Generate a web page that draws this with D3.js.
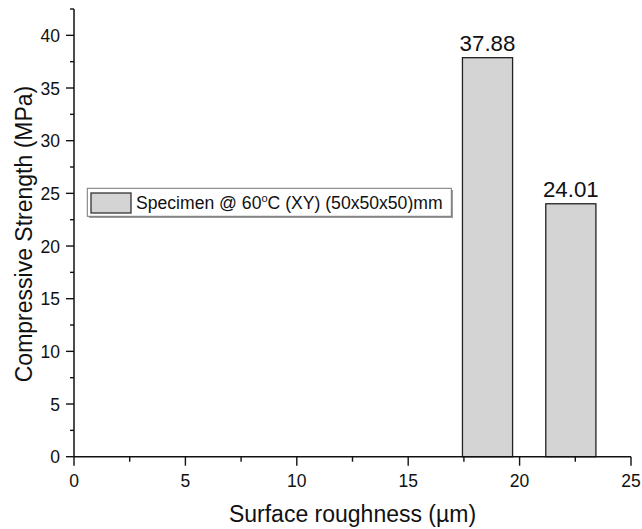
<!DOCTYPE html>
<html><head><meta charset="utf-8">
<script src="https://cdn.jsdelivr.net/npm/d3@7"></script>
<style>body{margin:0;background:#fff}svg{display:block}text{font-family:Arial,"Liberation Sans",sans-serif;fill:#111}</style>
</head><body><svg id="c" width="642" height="529"></svg>
<script>
const roughness = [18.56, 22.3];
const strength = [37.88, 24.01];
const barLabels = ["37.88", "24.01"];
const xTicks = [0, 5, 10, 15, 20, 25];
const yTicks = [0, 5, 10, 15, 20, 25, 30, 35, 40];
const barWidth = 2.25;
const seriesName = "Specimen @ 60";

const svg = d3.select("#c");
const x = d3.scaleLinear().domain([0, 25]).range([74, 631]);
const y = d3.scaleLinear().domain([0, 42.5]).range([456.7, 9]);

// bars
svg.selectAll("rect.bar").data(roughness).join("rect").attr("class","bar")
  .attr("x", (d)=>x(d - barWidth/2)).attr("width", (d)=>x(d + barWidth/2) - x(d - barWidth/2))
  .attr("y", (d,i)=>y(strength[i])).attr("height", (d,i)=>y(0)-y(strength[i]))
  .attr("fill","#d4d4d4").attr("stroke","#222").attr("stroke-width",1.3);

svg.selectAll("text.lbl").data(roughness).join("text").attr("class","lbl")
  .attr("x", d=>x(d)).attr("y",(d,i)=>y(strength[i]) - 6.5)
  .attr("text-anchor","middle").attr("font-size",22.3).text((d,i)=>barLabels[i]);

// axes
const xMinor = d3.range(0, 25.01, 2.5);
const yMinor = d3.range(0, 42.51, 2.5);
const gx = svg.append("g").attr("transform",`translate(0,${y(0)})`);
gx.append("line").attr("x1",x(0)).attr("x2",x(25)).attr("stroke","#111").attr("stroke-width",1.5);
gx.selectAll("line.mn").data(xMinor).join("line").attr("class","mn")
  .attr("x1",d=>x(d)).attr("x2",d=>x(d)).attr("y1",0).attr("y2",d=>xTicks.includes(d)?9:5)
  .attr("stroke","#111").attr("stroke-width",1.4);
gx.selectAll("text").data(xTicks).join("text").attr("x",d=>x(d)).attr("y",30)
  .attr("text-anchor","middle").attr("font-size",17.5).text(d=>d);

const gy = svg.append("g").attr("transform",`translate(${x(0)},0)`);
gy.append("line").attr("y1",y(0)).attr("y2",y(42.5)).attr("stroke","#111").attr("stroke-width",1.5);
gy.selectAll("line.mn").data(yMinor).join("line").attr("class","mn")
  .attr("y1",d=>y(d)).attr("y2",d=>y(d)).attr("x1",0).attr("x2",d=>yTicks.includes(d)?-8:-4)
  .attr("stroke","#111").attr("stroke-width",1.4);
gy.selectAll("text").data(yTicks).join("text").attr("x",-14).attr("y",d=>y(d)+6.5)
  .attr("text-anchor","end").attr("font-size",17.5).text(d=>d);

// axis titles
svg.append("text").attr("x",x(12.5)).attr("y",521.5).attr("text-anchor","middle")
  .attr("font-size",23).text("Surface roughness (µm)");
svg.append("text").attr("transform",`translate(32,234) rotate(-90)`)
  .attr("text-anchor","middle").attr("font-size",23).text("Compressive Strength (MPa)");

// legend
const lg = svg.append("g");
lg.append("rect").attr("x",89).attr("y",190).attr("width",364).attr("height",28).attr("fill","#9a9a9a");
lg.append("rect").attr("x",87.3).attr("y",188.3).attr("width",364).attr("height",28)
  .attr("fill","#fff").attr("stroke","#777").attr("stroke-width",1);
lg.append("rect").attr("x",91).attr("y",193).attr("width",40).attr("height",20)
  .attr("fill","#d4d4d4").attr("stroke","#333").attr("stroke-width",1.3);
const lt = lg.append("text").attr("x",136).attr("y",209.3).attr("font-size",17.6);
lt.append("tspan").text(seriesName);
lt.append("tspan").attr("font-size",11).attr("dy",-7).text("o");
lt.append("tspan").attr("dy",7).text("C (XY) (50x50x50)mm");
</script></body></html>
